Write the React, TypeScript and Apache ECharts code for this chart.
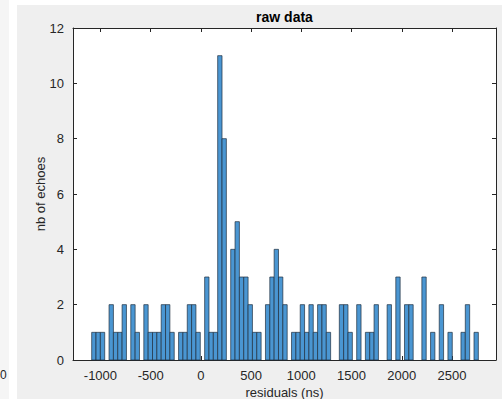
import React, { useEffect, useRef } from "react";
import * as echarts from "echarts";

// Histogram bins (ns)
const binStart = -1087;
const binWidth = 43.25;
const counts = [
  1, 1, 1, 0, 2, 1, 1, 2, 0, 2,
  1, 0, 2, 1, 1, 1, 2, 2, 1, 0,
  1, 1, 2, 2, 1, 0, 3, 1, 1, 11,
  8, 0, 4, 5, 3, 3, 2, 1, 1, 0,
  2, 3, 4, 3, 2, 0, 1, 1, 2, 1,
  2, 1, 2, 2, 1, 0, 0, 2, 2, 1,
  0, 2, 0, 1, 1, 2, 0, 0, 2, 0,
  3, 0, 2, 2, 0, 0, 3, 0, 1, 0,
  2, 0, 1, 0, 0, 1, 2, 0, 1,
];
const xTicks = [-1000, -500, 0, 500, 1000, 1500, 2000, 2500];
const yTicks = [0, 2, 4, 6, 8, 10, 12];

const FONT = '"Liberation Sans", Arial, Helvetica, sans-serif';
const AX = "#262626";

export default function App() {
  const ref = useRef<HTMLDivElement>(null);
  useEffect(() => {
    document.body.style.margin = "0";
    if (!ref.current) return;
    const chart = echarts.init(ref.current, undefined, { renderer: "svg" });
    const data = counts
      .map((c, i) => [binStart + i * binWidth, binStart + (i + 1) * binWidth, c])
      .filter((d) => d[2] > 0);
    const xCommon = {
      type: "value" as const,
      min: -1273,
      max: 2938,
      splitLine: { show: false },
      axisLine: { show: true, onZero: false, lineStyle: { color: AX, width: 1 } },
      axisTick: { show: true, inside: true, length: 4, customValues: xTicks, lineStyle: { color: AX } },
    };
    const yCommon = {
      type: "value" as const,
      min: yTicks[0],
      max: yTicks[yTicks.length - 1],
      interval: 2,
      splitLine: { show: false },
      axisLine: { show: true, onZero: false, lineStyle: { color: AX, width: 1 } },
      axisTick: { show: true, inside: true, length: 4, lineStyle: { color: AX } },
    };
    chart.setOption({
      animation: false,
      backgroundColor: "#efefef",
      textStyle: { fontFamily: FONT },
      grid: {
        left: 73, top: 28, right: 6, bottom: 39,
        outerBoundsMode: "none", containLabel: false,
        show: true, backgroundColor: "#ffffff", borderWidth: 0,
      },
      xAxis: [
        {
          ...xCommon,
          position: "bottom",
          axisLabel: { customValues: xTicks, formatter: (v: number) => String(v), color: AX, fontSize: 13, margin: 9, fontFamily: FONT },
          name: "residuals (ns)",
          nameLocation: "middle",
          nameGap: 26,
          nameMoveOverlap: false,
          nameTextStyle: { color: AX, fontSize: 13, fontFamily: FONT },
        },
        { ...xCommon, position: "top", axisLabel: { show: false } },
      ],
      yAxis: [
        {
          ...yCommon,
          position: "left",
          axisLabel: { color: AX, fontSize: 13, margin: 9, fontFamily: FONT },
          name: "nb of echoes",
          nameLocation: "middle",
          nameGap: 26,
          nameMoveOverlap: false,
          nameTextStyle: { color: AX, fontSize: 13, fontFamily: FONT },
        },
        { ...yCommon, position: "right", axisLabel: { show: false } },
      ],
      graphic: [
        { type: "rect", left: 0, top: 0, shape: { width: 9, height: 399 }, style: { fill: "#f5f5f5" }, z: -1 },
        { type: "rect", left: 9, top: 0, shape: { width: 8, height: 399 }, style: { fill: "#ffffff" }, z: -1 },
        { type: "rect", left: 17, top: 0, shape: { width: 485, height: 5 }, style: { fill: "#ffffff" }, z: -1 },
        { type: "text", x: 0, y: 369, style: { text: "0", fill: AX, fontSize: 12, fontFamily: FONT } },
        {
          type: "text",
          x: 284.5,
          y: 17,
          style: { text: "raw data", fill: "#000", fontSize: 14, fontWeight: "bold", fontFamily: FONT, align: "center", verticalAlign: "middle" },
        },
      ],
      series: [
        {
          type: "custom",
          xAxisIndex: 0,
          yAxisIndex: 0,
          encode: { x: [0, 1], y: 2 },
          data,
          renderItem: (params: any, api: any) => {
            const p0 = api.coord([api.value(0), api.value(2)]);
            const p1 = api.coord([api.value(1), 0]);
            return {
              type: "rect",
              shape: { x: p0[0], y: p0[1], width: p1[0] - p0[0], height: p1[1] - p0[1] },
              style: { fill: "#4a96d2", stroke: "#1f2f3f", lineWidth: 0.7 },
            };
          },
        },
      ],
    });
    return () => chart.dispose();
  }, []);
  return <div ref={ref} style={{ width: 502, height: 399 }} />;
}
